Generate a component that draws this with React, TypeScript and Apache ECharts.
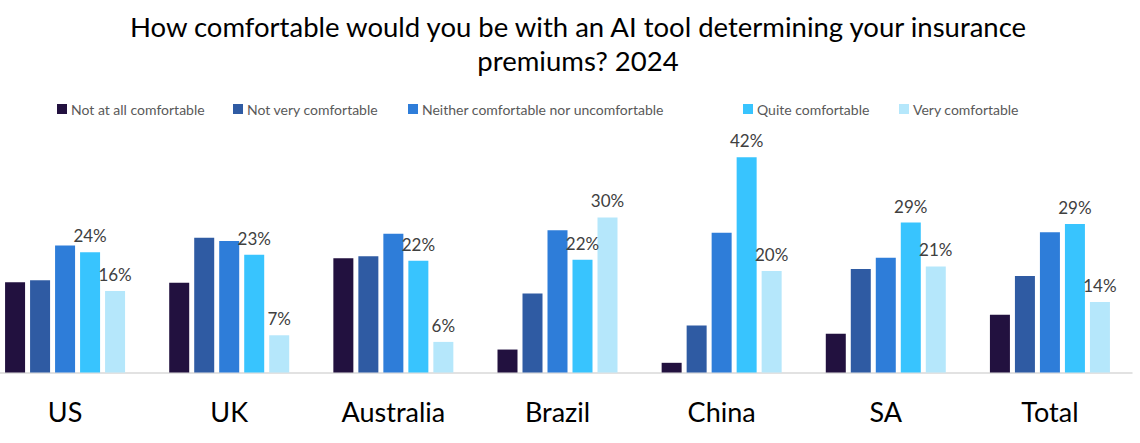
import React, { useEffect, useRef } from "react";
import * as echarts from "echarts";

const categories = ["US", "UK", "Australia", "Brazil", "China", "SA", "Total"];
const seriesNames = [
  "Not at all comfortable",
  "Not very comfortable",
  "Neither comfortable nor uncomfortable",
  "Quite comfortable",
  "Very comfortable",
];
const notAtAll = [17.7, 17.6, 22.4, 4.5, 1.9, 7.6, 11.3];
const notVery = [18.1, 26.4, 22.8, 15.5, 9.2, 20.3, 18.9];
const neither = [24.9, 25.8, 27.2, 27.9, 27.4, 22.5, 27.5];
const quite = [23.6, 23.1, 21.9, 22.1, 42.2, 29.4, 29.1];
const very = [16.0, 7.3, 6.0, 30.4, 19.9, 20.8, 13.8];
const colors = ["#22113f", "#2f5ba3", "#2e7dd9", "#38c4fe", "#b5e7fb"];
const labelled = [false, false, false, true, true];

const FONT = "Lato, 'Liberation Sans', sans-serif";
const SHIFT = 17;
const legendX = [57, 233, 408, 743, 899];

export default function App() {
  const ref = useRef<HTMLDivElement>(null);
  useEffect(() => {
    if (!ref.current) return;
    const chart = echarts.init(ref.current, undefined, { renderer: "svg" });
    const data = [notAtAll, notVery, neither, quite, very];
    chart.setOption({
      animation: false,
      textStyle: { fontFamily: FONT },
      title: {
        text: "How comfortable would you be with an AI tool determining your insurance\npremiums? 2024",
        left: 573 + SHIFT,
        textAlign: "center",
        top: 4,
        textStyle: {
          fontFamily: FONT,
          fontSize: 27.5,
          fontWeight: "normal",
          color: "#000000",
          lineHeight: 34,
        },
      },
      legend: seriesNames.map((name, i) => ({
        left: legendX[i] + SHIFT,
        top: 102,
        padding: 0,
        itemWidth: 10,
        itemHeight: 10,
        itemGap: 0,
        icon: "rect",
        textStyle: { fontFamily: FONT, fontSize: 14, color: "#595959", padding: [0, 0, 0, -1] },
        data: [name],
      })),
      grid: { left: 0, right: 8, top: 117.5, bottom: 70.5 },
      xAxis: {
        type: "category",
        data: categories,
        axisLine: { lineStyle: { color: "#d9d9d9", width: 1.5 } },
        axisTick: { show: false },
        axisLabel: { fontFamily: FONT, fontSize: 27, color: "#000000", margin: 25 },
      },
      yAxis: {
        type: "value",
        min: 0,
        max: 50,
        show: false,
        splitLine: { show: false },
      },
      series: seriesNames.map((name, i) => ({
        name,
        type: "bar",
        data: data[i],
        barWidth: 20,
        barGap: "25%",
        itemStyle: { color: colors[i] },
        label: {
          show: labelled[i],
          position: "top",
          distance: 8,
          fontFamily: FONT,
          fontSize: 17,
          color: "#404040",
          formatter: (p: any) => Math.round(p.value) + "%",
        },
      })),
    });
    return () => chart.dispose();
  }, []);
  return (
    <div
      ref={ref}
      style={{
        position: "fixed",
        left: -SHIFT,
        top: 0,
        width: 1140 + SHIFT,
        height: 443,
        background: "#ffffff",
      }}
    />
  );
}
